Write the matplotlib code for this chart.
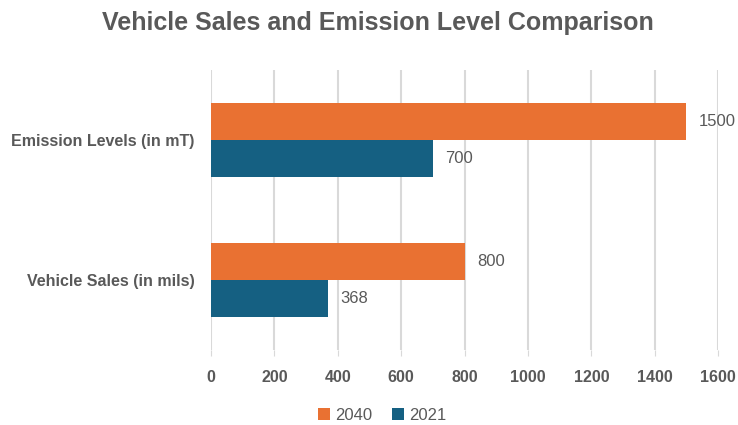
import matplotlib
matplotlib.use("Agg")
import matplotlib.pyplot as plt
import numpy as np

categories = ["Vehicle Sales (in mils)", "Emission Levels (in mT)"]
sales_2040 = [800, 1500]
sales_2021 = [368, 700]
xticks = [0, 200, 400, 600, 800, 1000, 1200, 1400, 1600]

orange = "#E97132"
blue = "#156082"
grey = "#595959"

plt.rcParams['font.family'] = ['Liberation Sans', 'DejaVu Sans']

fig = plt.figure(figsize=(7.38, 4.25), dpi=100)
ax = fig.add_axes([0.286, 0.176, 0.687, 0.659])

y = np.arange(len(categories))
h = 0.265
b1 = ax.barh(y + h / 2, sales_2040, height=h, color=orange, label="2040", zorder=3)
b2 = ax.barh(y - h / 2, sales_2021, height=h, color=blue, label="2021", zorder=3)

for bars in (b1, b2):
    ax.bar_label(bars, padding=9, color=grey, fontsize=12)

ax.set_xlim(0, 1600)
ax.set_ylim(-0.5, 1.5)
ax.set_xticks(xticks)
ax.set_xticklabels([str(t) for t in xticks], fontsize=11.5, fontweight="bold", color=grey)
ax.set_yticks(y)
ax.set_yticklabels(categories, fontsize=11.5, fontweight="bold", color=grey)
ax.tick_params(axis="y", length=0, pad=12)
ax.tick_params(axis="x", length=4, color="#D9D9D9", pad=10)
ax.grid(axis="x", color="#D9D9D9", linewidth=1.5, zorder=0)
for s in ax.spines.values():
    s.set_visible(False)

fig.text(0.512, 0.945, "Vehicle Sales and Emission Level Comparison", ha="center", va="center",
         fontsize=18, fontweight="bold", color=grey)

fig.legend(handles=[b1, b2], loc="center", bbox_to_anchor=(0.518, 0.022), ncol=2, frameon=False,
           fontsize=12, labelcolor=grey, handlelength=0.7, handleheight=0.7,
           handletextpad=0.3, columnspacing=1.2)

fig.savefig("out.png", dpi=100)
